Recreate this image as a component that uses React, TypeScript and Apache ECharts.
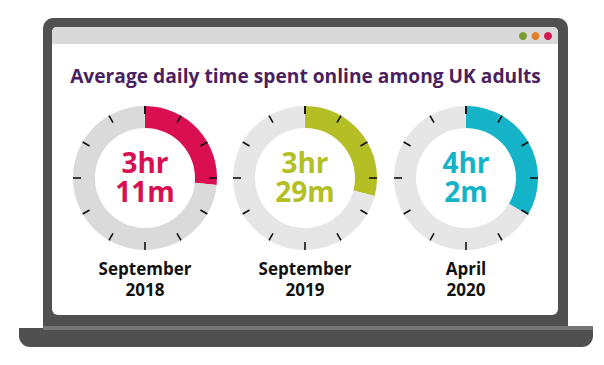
import React, { useEffect, useRef } from "react";
import * as echarts from "echarts";

const periods = ["September\n2018", "September\n2019", "April\n2020"];
const hours = [3, 3, 4];
const minutes = [11, 29, 2];
const ringColors = ["#d90f52", "#b3bf25", "#14b3c7"];
const trackColors = ["#dadada", "#e6e6e6", "#e6e6e6"];
const dayMinutes = 12 * 60; // clock face: 12 hours
const titleText = "Average daily time spent online among UK adults";
const dotColors = ["#7d9c33", "#e2802a", "#d6174f"];

const centersX = [145, 305, 466];
const centerY = 178;

export default function App() {
  const ref = useRef<HTMLDivElement>(null);
  useEffect(() => {
    if (!ref.current) return;
    const chart = echarts.init(ref.current, null, { renderer: "svg" });
    const series: any[] = [];
    periods.forEach((_, i) => {
      const total = hours[i] * 60 + minutes[i];
      series.push({
        type: "pie",
        z: 2,
        center: [centersX[i], centerY],
        radius: [50, 72],
        startAngle: 90,
        clockwise: true,
        silent: true,
        label: { show: false },
        labelLine: { show: false },
        itemStyle: { borderWidth: 0 },
        emphasis: { disabled: true },
        data: [
          { value: total, itemStyle: { color: ringColors[i] } },
          { value: dayMinutes - total, itemStyle: { color: trackColors[i] } },
        ],
      });
    });
    periods.forEach((_, i) => {
      series.push({
        type: "gauge",
        z: 5,
        center: [centersX[i], centerY],
        radius: 72,
        startAngle: 90,
        endAngle: -270,
        min: 0,
        max: 12,
        splitNumber: 12,
        silent: true,
        axisLine: { show: true, lineStyle: { width: 22, color: [[1, "rgba(0,0,0,0)"]] } },
        splitLine: { show: true, distance: -22, length: 8, lineStyle: { color: "#111111", width: 1.6 } },
        axisTick: { show: false },
        axisLabel: { show: false },
        pointer: { show: false },
        anchor: { show: false },
        title: { show: false },
        detail: { show: false },
        progress: { show: false },
        data: [{ value: 0 }],
      });
    });

    const texts: any[] = [];
    periods.forEach((p, i) => {
      texts.push({
        type: "text",
        x: centersX[i],
        y: 176.5,
        z: 10,
        style: {
          text: `${hours[i]}hr\n${minutes[i]}m`,
          fill: ringColors[i],
          font: "bold 28px 'Open Sans', sans-serif",
          lineHeight: 29,
          textAlign: "center",
          textVerticalAlign: "middle",
        },
      });
      texts.push({
        type: "text",
        x: centersX[i],
        y: 258,
        z: 10,
        style: {
          text: p,
          fill: "#111111",
          font: "bold 17px 'Open Sans', sans-serif",
          lineHeight: 21,
          textAlign: "center",
          textVerticalAlign: "top",
        },
      });
    });

    const graphic: any[] = [
      {
        type: "rect",
        shape: { x: 19, y: 328, width: 574, height: 19, r: [0, 0, 11, 11] },
        style: { fill: "#505050" },
        z: -5,
      },
      {
        type: "rect",
        shape: { x: 43, y: 18, width: 525, height: 312, r: [10, 10, 0, 0] },
        style: { fill: "#505050" },
        z: -4,
      },
      {
        type: "rect",
        shape: { x: 43, y: 326, width: 550, height: 4 },
        style: { fill: "#767676" },
        z: -3,
      },
      {
        type: "rect",
        shape: { x: 52, y: 27, width: 506, height: 288, r: [5, 5, 6, 6] },
        style: { fill: "#ffffff" },
        z: -2,
      },
      {
        type: "rect",
        shape: { x: 52, y: 27, width: 506, height: 17, r: [5, 5, 0, 0] },
        style: { fill: "#d9d9d9" },
        z: -1,
      },
      ...dotColors.map((c, k) => ({
        type: "circle",
        shape: { cx: 523 + k * 12.5, cy: 36, r: 4 },
        style: { fill: c },
        z: 0,
      })),
      {
        type: "text",
        x: 305.5,
        y: 75,
        z: 10,
        style: {
          text: titleText,
          fill: "#4b1f60",
          font: "bold 19.2px 'Open Sans', sans-serif",
          textAlign: "center",
          textVerticalAlign: "middle",
        },
      },
      ...texts,
    ];

    chart.setOption({
      animation: false,
      backgroundColor: "#ffffff",
      graphic,
      series,
    });
    return () => chart.dispose();
  }, []);
  return (
    <div
      ref={ref}
      style={{ position: "fixed", left: 0, top: 0, width: 604, height: 365 }}
    />
  );
}
